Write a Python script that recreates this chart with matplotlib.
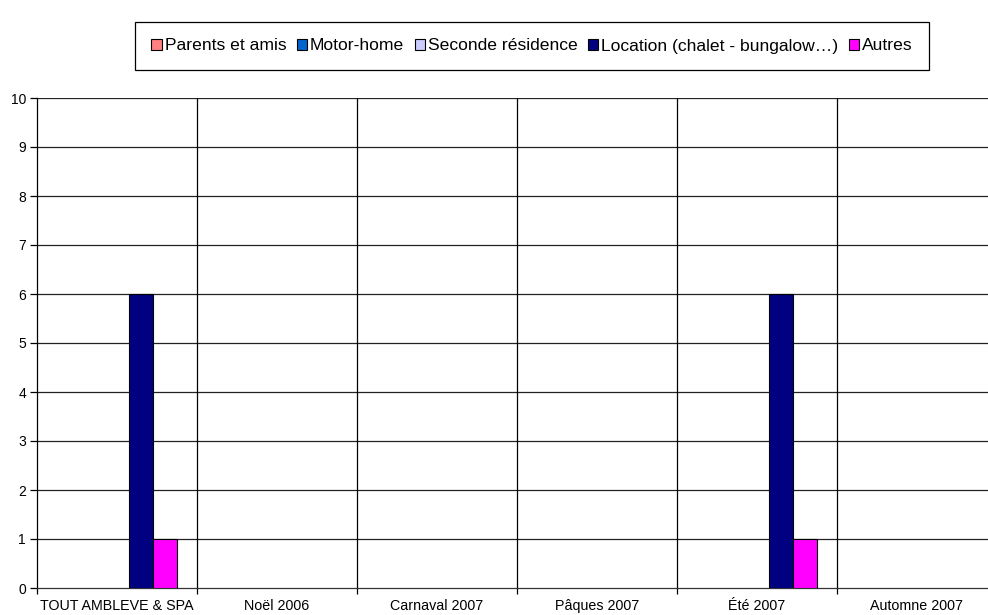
import matplotlib
matplotlib.use("Agg")
import matplotlib.pyplot as plt
import numpy as np
from matplotlib.patches import Patch

plt.rcParams['font.family'] = ['Liberation Sans', 'DejaVu Sans']

categories = ["TOUT AMBLEVE & SPA", "Noël 2006", "Carnaval 2007", "Pâques 2007", "Été 2007", "Automne 2007"]
series_names = ["Parents et amis", "Motor-home", "Seconde résidence", "Location (chalet - bungalow…)", "Autres"]
parents = [0, 0, 0, 0, 0, 0]
motorhome = [0, 0, 0, 0, 0, 0]
seconde = [0, 0, 0, 0, 0, 0]
location = [6, 0, 0, 0, 6, 0]
autres = [1, 0, 0, 0, 1, 0]
colors = ["#FF8080", "#0066CC", "#CCCCFF", "#000080", "#FF00FF"]
yticks = list(range(0, 11))

series = [parents, motorhome, seconde, location, autres]

fig = plt.figure(figsize=(9.88, 6.15), dpi=100)
W, H = 988, 615
ax = fig.add_axes([37 / W, (H - 588) / H, 960 / W, 490 / H])

x = np.arange(len(categories))
bw = 0.15
for i, (vals, c) in enumerate(zip(series, colors)):
    pos = x + (i - 2) * bw
    for p, v in zip(pos, vals):
        if v > 0:
            ax.bar(p, v, width=bw, color=c, edgecolor="black", linewidth=0.8, zorder=3)

ax.set_xlim(-0.5, len(categories) - 0.5)
ax.set_ylim(0, 10)
ax.set_yticks(yticks)
ax.set_yticklabels([str(t) for t in yticks], fontsize=10)
for t in yticks[1:]:
    ax.axhline(t, color="#222222", linewidth=0.9, zorder=1)
bounds = np.arange(0.5, len(categories) - 0.5, 1.0)
for b in bounds:
    ax.axvline(b, color="black", linewidth=0.9, zorder=1)

ax.set_xticks(np.arange(-0.5, len(categories), 1.0))
ax.set_xticklabels([])
ax.set_xticks(x, minor=True)
ax.set_xticklabels(categories, minor=True, fontsize=10.3)
ax.tick_params(axis="x", which="minor", length=0, pad=8)
ax.tick_params(axis="x", which="major", length=4, width=0.9, direction="out")
ax.tick_params(axis="y", length=5, width=0.9, direction="out", pad=3)

for s in ["top", "right"]:
    ax.spines[s].set_visible(False)
ax.spines["left"].set_color("black")
ax.spines["bottom"].set_color("#333333")
ax.spines["left"].set_linewidth(0.9)
ax.spines["bottom"].set_linewidth(0.9)

handles = [Patch(facecolor=c, edgecolor="black", linewidth=0.8) for c in colors]
leg = fig.legend(handles, series_names, loc="center", bbox_to_anchor=(532 / W, 1 - 46 / H),
                 ncol=5, fontsize=12.6, frameon=True, fancybox=False, edgecolor="black",
                 handlelength=0.6, handleheight=0.6, handletextpad=0.15, columnspacing=0.6,
                 borderpad=0.95, framealpha=1)
leg.get_frame().set_linewidth(0.9)

fig.savefig("out.png", dpi=100)
